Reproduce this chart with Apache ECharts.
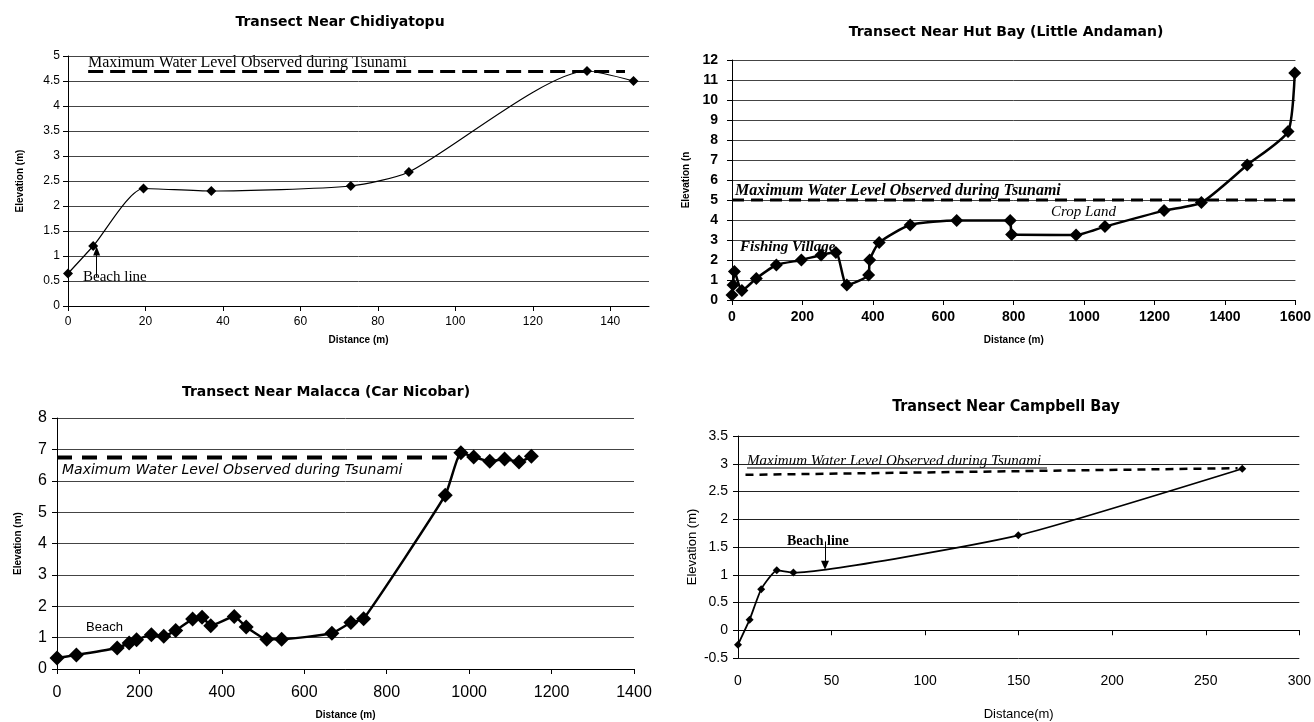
<!DOCTYPE html>
<html>
<head>
<meta charset="utf-8">
<script src="https://cdn.jsdelivr.net/npm/echarts@6/dist/echarts.min.js"></script>
<style>
html,body{margin:0;padding:0;background:#fff}
#main{width:1314px;height:722px}
</style>
</head>
<body>
<div id="main"></div>
<script>
// Transect Near Chidiyatopu
var chidDist = [0, 6.5, 19.5, 37, 73, 88, 134, 146];
var chidElev = [0.65, 1.2, 2.35, 2.3, 2.4, 2.68, 4.7, 4.5];
var chidMwlX = [5.2, 143.8];
var chidMwlY = [4.69, 4.69];

// Transect Near Hut Bay (Little Andaman)
var hutDist = [0, 3, 7, 28, 69, 126, 197, 253, 295, 326, 388, 391, 418, 506, 638, 790, 794, 977, 1059, 1227, 1333, 1463, 1579, 1598];
var hutElev = [0.25, 0.75, 1.42, 0.47, 1.08, 1.75, 2.0, 2.25, 2.37, 0.75, 1.25, 2.0, 2.87, 3.75, 3.97, 3.97, 3.27, 3.25, 3.67, 4.47, 4.87, 6.75, 8.42, 11.35];
var hutMwlX = [0, 1600];
var hutMwlY = [5, 5];

// Transect Near Malacca (Car Nicobar)
var malDist = [0, 47, 146, 175, 193, 229, 259, 288, 329, 352, 373, 430, 459, 509, 545, 667, 713, 744, 942, 980, 1011, 1050, 1086, 1121, 1151];
var malElev = [0.35, 0.45, 0.67, 0.83, 0.93, 1.09, 1.04, 1.23, 1.59, 1.65, 1.38, 1.67, 1.34, 0.95, 0.95, 1.14, 1.48, 1.6, 5.54, 6.89, 6.76, 6.62, 6.69, 6.6, 6.78];
var malMwlX = [0, 975];
var malMwlY = [6.74, 6.74];

// Transect Near Campbell Bay
var campDist = [0, 6.2, 12.4, 20.7, 29.6, 149.8, 269.5];
var campElev = [-0.26, 0.19, 0.74, 1.08, 1.04, 1.71, 2.91];
var campMwlX = [4, 267];
var campMwlY = [2.8, 2.92];

function pairs(xs, ys) {
  return xs.map(function (x, i) { return [x, ys[i]]; });
}

var chart = echarts.init(document.getElementById('main'));

function txt(x, y, s, font, align) {
  return {
    type: 'text', x: x, y: y, silent: true,
    style: {
      text: s, font: font, fill: '#000',
      align: align || 'left', verticalAlign: 'middle',
      textAlign: align || 'left', textVerticalAlign: 'middle'
    }
  };
}

function plain(v) { return String(v); }

function xAx(gi, min, max, step, lbl, name, nameFont, gap) {
  lbl.formatter = plain;
  return {
    type: 'value', gridIndex: gi, min: min, max: max, interval: step,
    name: name, nameLocation: 'middle', nameGap: gap,
    nameTextStyle: nameFont,
    axisLine: { show: true, onZero: true, lineStyle: { color: '#000', width: 1 } },
    axisTick: { show: true, length: 5, lineStyle: { color: '#000' } },
    axisLabel: lbl,
    splitLine: { show: false }
  };
}

function yAx(gi, min, max, step, lbl, name, nameFont, gap, gridCol) {
  return {
    type: 'value', gridIndex: gi, min: min, max: max, interval: step,
    name: name, nameLocation: 'middle', nameGap: gap,
    nameTextStyle: nameFont,
    axisLine: { show: true, lineStyle: { color: '#000', width: 1 } },
    axisTick: { show: true, length: 5, lineStyle: { color: '#000' } },
    axisLabel: lbl,
    splitLine: { show: true, lineStyle: { color: gridCol, width: 1 } }
  };
}

var boldSmall = { fontFamily: 'Liberation Sans', fontWeight: 'bold', fontSize: 10, color: '#000' };

var option = {
  animation: false,
  backgroundColor: '#fff',
  grid: [
    { left: 68, top: 56, width: 581, height: 250 },
    { left: 732, top: 60, width: 564, height: 240 },
    { left: 57, top: 418, width: 577, height: 251 },
    { left: 738, top: 436, width: 564, height: 253 }
  ],
  xAxis: [
    xAx(0, 0, 150, 20, { fontFamily: 'Liberation Sans Narrow, Liberation Sans', fontSize: 12, color: '#000', margin: 10, showMaxLabel: false },
      'Distance (m)', boldSmall, 29),
    xAx(1, 0, 1600, 200, { fontFamily: 'Liberation Sans', fontWeight: 'bold', fontSize: 14, color: '#000', margin: 10 },
      'Distance (m)', boldSmall, 35),
    xAx(2, 0, 1400, 200, { fontFamily: 'Liberation Sans', fontSize: 16, color: '#000', margin: 16 },
      'Distance (m)', boldSmall, 41),
    xAx(3, 0, 300, 50, { fontFamily: 'Liberation Sans Narrow, Liberation Sans', fontSize: 14, color: '#000', margin: 16 },
      'Distance(m)', { fontFamily: 'Liberation Sans Narrow, Liberation Sans', fontSize: 13, color: '#000' }, 50)
  ],
  yAxis: [
    yAx(0, 0, 5, 0.5, { fontFamily: 'Liberation Sans Narrow, Liberation Sans', fontSize: 12, color: '#000', margin: 8 },
      'Elevation (m)', boldSmall, 43, '#444'),
    yAx(1, 0, 12, 1, { fontFamily: 'Liberation Sans', fontWeight: 'bold', fontSize: 14, color: '#000', margin: 14 },
      'Elevation (n', boldSmall, 41, '#444'),
    yAx(2, 0, 8, 1, { fontFamily: 'Liberation Sans', fontSize: 16, color: '#000', margin: 10 },
      'Elevation (m)', boldSmall, 34, '#444'),
    yAx(3, -0.5, 3.5, 0.5, { fontFamily: 'Liberation Sans Narrow, Liberation Sans', fontSize: 14, color: '#000', margin: 10 },
      'Elevation (m)', { fontFamily: 'Liberation Sans Narrow, Liberation Sans', fontSize: 13, color: '#000' }, 39, '#222')
  ],
  series: [
    {
      type: 'line', xAxisIndex: 0, yAxisIndex: 0, z: 3,
      data: pairs(chidDist, chidElev), smooth: 0.22,
      symbol: 'diamond', symbolSize: 10,
      lineStyle: { color: '#000', width: 1.2 }, itemStyle: { color: '#000' },
      markLine: {
        silent: true, symbol: ['none', 'triangle'], symbolSize: [7, 9],
        label: { show: false }, lineStyle: { color: '#000', width: 1, type: 'solid' },
        data: [[{ coord: [7.4, 0.58] }, { coord: [7.4, 1.1] }]]
      }
    },
    {
      type: 'line', xAxisIndex: 0, yAxisIndex: 0, z: 2,
      data: pairs(chidMwlX, chidMwlY), symbol: 'none',
      lineStyle: { color: '#000', width: 3, type: [15, 7] }
    },
    {
      type: 'line', xAxisIndex: 1, yAxisIndex: 1, z: 3,
      data: pairs(hutDist, hutElev), smooth: 0.2,
      symbol: 'diamond', symbolSize: 13,
      lineStyle: { color: '#000', width: 2.5 }, itemStyle: { color: '#000' }
    },
    {
      type: 'line', xAxisIndex: 1, yAxisIndex: 1, z: 2,
      data: pairs(hutMwlX, hutMwlY), symbol: 'none',
      lineStyle: { color: '#000', width: 3, type: [12, 7] }
    },
    {
      type: 'line', xAxisIndex: 2, yAxisIndex: 2, z: 3,
      data: pairs(malDist, malElev), smooth: 0.15,
      symbol: 'diamond', symbolSize: 15,
      lineStyle: { color: '#000', width: 2.5 }, itemStyle: { color: '#000' }
    },
    {
      type: 'line', xAxisIndex: 2, yAxisIndex: 2, z: 2,
      data: pairs(malMwlX, malMwlY), symbol: 'none',
      lineStyle: { color: '#000', width: 4, type: [15, 10] }
    },
    {
      type: 'line', xAxisIndex: 3, yAxisIndex: 3, z: 3,
      data: pairs(campDist, campElev), smooth: 0.15,
      symbol: 'diamond', symbolSize: 8,
      lineStyle: { color: '#000', width: 1.8 }, itemStyle: { color: '#000' },
      markLine: {
        silent: true, symbol: ['none', 'triangle'], symbolSize: [8, 9],
        label: { show: false }, lineStyle: { color: '#000', width: 1, type: 'solid' },
        data: [[{ coord: [46.5, 1.6] }, { coord: [46.5, 1.17] }]]
      }
    },
    {
      type: 'line', xAxisIndex: 3, yAxisIndex: 3, z: 2,
      data: pairs(campMwlX, campMwlY), symbol: 'none',
      lineStyle: { color: '#000', width: 2.5, type: [8, 6] }
    }
  ],
  graphic: [
    // titles
    txt(340, 22, 'Transect Near Chidiyatopu', 'bold 14px DejaVu Sans', 'center'),
    txt(1006, 32, 'Transect Near Hut Bay (Little Andaman)', 'bold 14px DejaVu Sans', 'center'),
    txt(326, 392, 'Transect Near Malacca (Car Nicobar)', 'bold 14px DejaVu Sans', 'center'),
    txt(1006, 407, 'Transect Near Campbell Bay', 'bold 16px DejaVu Sans Condensed, DejaVu Sans', 'center'),
    // annotations
    txt(88, 63, 'Maximum Water Level Observed during Tsunami', '16px Liberation Serif'),
    txt(83, 277, 'Beach line', '15px Liberation Serif'),
    txt(735, 191, 'Maximum Water Level Observed during Tsunami', 'italic bold 16px Liberation Serif'),
    txt(740, 247, 'Fishing Village', 'italic bold 15px Liberation Serif'),
    txt(1051, 212, 'Crop Land', 'italic 15px Liberation Serif'),
    txt(62, 470, 'Maximum Water Level Observed during Tsunami', 'italic 14px DejaVu Sans'),
    txt(86, 627, 'Beach', '13px Liberation Sans'),
    txt(747, 461, 'Maximum Water Level Observed during Tsunami', 'italic 15px Liberation Serif'),
    {
      type: 'line', silent: true,
      shape: { x1: 747, y1: 468, x2: 1047, y2: 468 },
      style: { stroke: '#000', lineWidth: 1 }
    },
    txt(787, 541, 'Beach line', 'bold 14px Liberation Serif')
  ]
};

chart.setOption(option);
</script>
</body>
</html>
